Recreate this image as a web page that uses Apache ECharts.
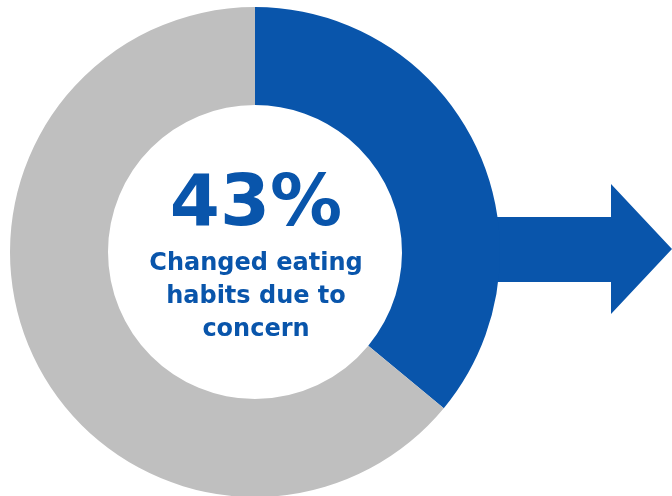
<!DOCTYPE html>
<html>
<head>
<meta charset="utf-8">
<script src="https://cdn.jsdelivr.net/npm/echarts@6/dist/echarts.min.js"></script>
<style>
html,body{margin:0;padding:0;background:#fff;}
#c{width:672px;height:496px;}
</style>
</head>
<body>
<div id="c"></div>
<script>
const categories = ['Changed eating habits due to concern', 'Other'];
const values = [36, 64];
const headline = '43%';
const caption = ['Changed eating', 'habits due to', 'concern'];

const BLUE = '#0955AB';
const GRAY = '#BFBFBF';

const chart = echarts.init(document.getElementById('c'), null, {renderer: 'canvas'});
chart.setOption({
  animation: false,
  backgroundColor: '#fff',
  series: [{
    type: 'pie',
    center: [255, 252],
    radius: [147, 245],
    startAngle: 90,
    clockwise: true,
    silent: true,
    label: {show: false},
    labelLine: {show: false},
    emphasis: {disabled: true},
    itemStyle: {borderWidth: 0},
    z: 2,
    data: categories.map((n, i) => ({
      name: n, value: values[i],
      itemStyle: {color: i === 0 ? BLUE : GRAY}
    }))
  }],
  graphic: [
    {
      type: 'polygon', z: 1, silent: true,
      shape: {points: [[470, 217], [611, 217], [611, 184], [672, 249], [611, 314], [611, 282], [470, 282]]},
      style: {fill: BLUE}
    },
    {
      type: 'text', z: 10, silent: true,
      style: {x: 256, y: 206, text: headline, fill: BLUE, align: 'center', verticalAlign: 'middle',
        font: 'bold 72px "DejaVu Sans"'}
    },
    ...caption.map((t, i) => ({
      type: 'text', z: 10, silent: true,
      style: {x: 256, y: 264 + i * 33, text: t, fill: BLUE, align: 'center', verticalAlign: 'middle',
        font: 'bold 24px "DejaVu Sans"'}
    }))
  ]
});
</script>
</body>
</html>
